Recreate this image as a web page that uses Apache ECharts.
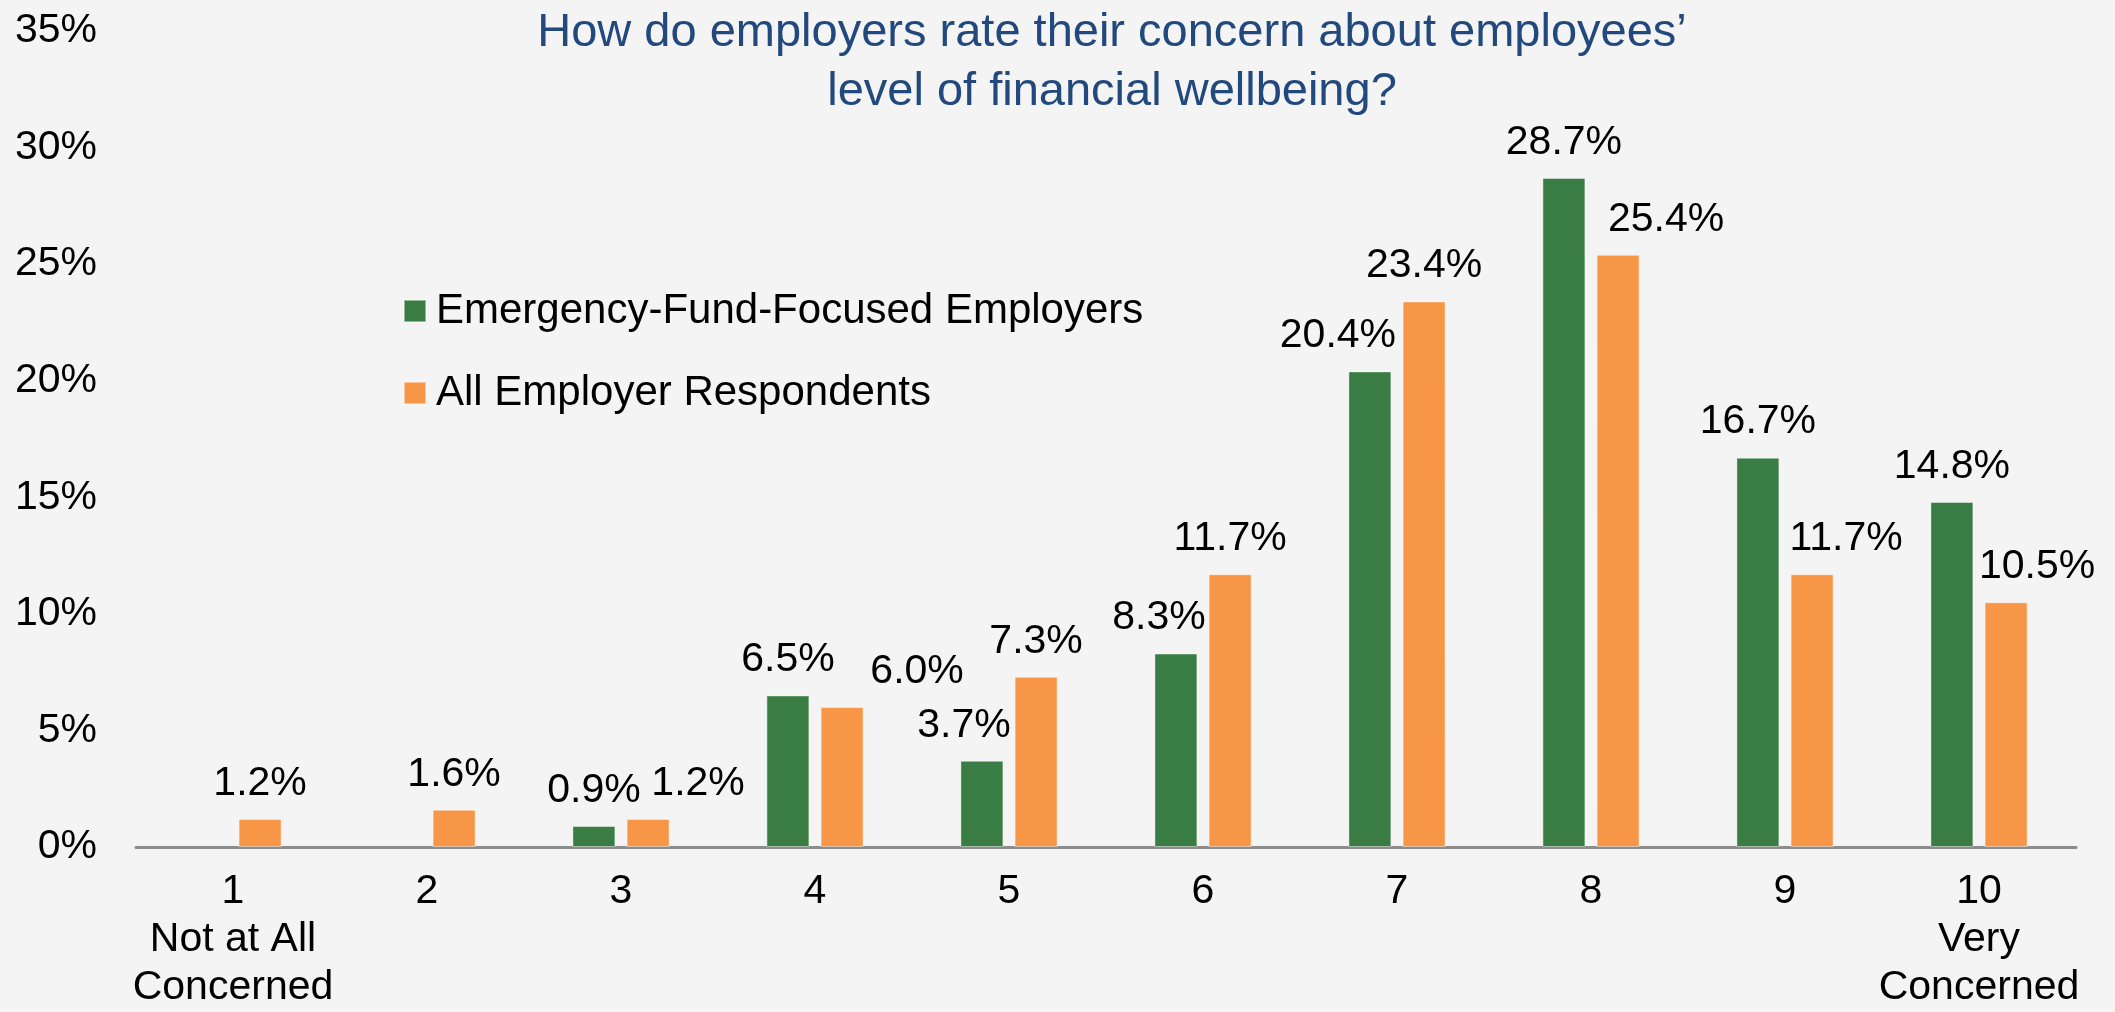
<!DOCTYPE html>
<html>
<head>
<meta charset="utf-8">
<script src="https://cdn.jsdelivr.net/npm/echarts@6/dist/echarts.min.js"></script>
<style>
  html, body { margin: 0; padding: 0; background: #f4f4f4; }
  #chart { width: 2115px; height: 1012px; }
</style>
</head>
<body>
<div id="chart"></div>
<script>
// ---- data ----
var categories = ['1\nNot at All\nConcerned', '2', '3', '4', '5', '6', '7', '8', '9', '10\nVery\nConcerned'];
var seriesNames = ['Emergency-Fund-Focused Employers', 'All Employer Respondents'];
var emergencyFundFocused = [null, null, 0.9, 6.5, 3.7, 8.3, 20.4, 28.7, 16.7, 14.8];
var allEmployerRespondents = [1.2, 1.6, 1.2, 6.0, 7.3, 11.7, 23.4, 25.4, 11.7, 10.5];
var titleText = 'How do employers rate their concern about employees\u2019\nlevel of financial wellbeing?';
var yMin = 0, yMax = 35, yStep = 5;

// ---- label nudges (layout only, horizontal px, as placed in the original) ----
var greenLabelNudge = [0, 0, 0, 0, -18, -17, -32, 0, 0, 0];
var orangeLabelNudge = [0, 0, 50, 75, 0, 0, 0, 48, 34, 31];

var FONT = '"Liberation Sans", Arial, Helvetica, sans-serif';
var GREEN = '#3a7d44';
var ORANGE = '#f79646';

function buildData(values, nudges) {
  return values.map(function (v, i) {
    if (v === null) return '-';
    return { value: v, label: { offset: [nudges[i], 0] } };
  });
}

var chart = echarts.init(document.getElementById('chart'), null, { renderer: 'canvas' });

var labelCfg = {
  show: true,
  position: 'top',
  distance: 15,
  fontFamily: FONT,
  fontSize: 41,
  lineHeight: 41,
  color: '#000000',
  formatter: function (p) { return p.value.toFixed(1) + '%'; }
};

var option = {
  backgroundColor: '#f4f4f4',
  animation: false,
  textStyle: { fontFamily: FONT },
  graphic: [{
    type: 'text',
    x: 1112,
    y: 4,
    silent: true,
    style: {
      text: titleText,
      fill: '#22497d',
      font: '47px ' + FONT,
      fontSize: 47,
      fontFamily: FONT,
      lineHeight: 59,
      align: 'center',
      textAlign: 'center',
      verticalAlign: 'top',
      textVerticalAlign: 'top'
    }
  }],
  legend: {
    orient: 'vertical',
    left: 398,
    top: 285,
    itemWidth: 22,
    itemHeight: 22,
    itemGap: 40,
    icon: 'rect',
    data: seriesNames,
    textStyle: {
      fontFamily: FONT,
      fontSize: 42,
      lineHeight: 42,
      color: '#000000',
      padding: [0, 0, 0, 5]
    }
  },
  grid: {
    left: 136,
    right: 39,
    top: 31,
    bottom: 160,
    containLabel: false
  },
  xAxis: {
    type: 'category',
    data: categories,
    axisLine: { show: true, lineStyle: { color: '#8c8c8c', width: 3 } },
    axisTick: { show: false },
    splitLine: { show: false },
    axisLabel: {
      fontFamily: FONT,
      fontSize: 41,
      lineHeight: 48,
      color: '#000000',
      margin: 21,
      interval: 0,
      align: 'center'
    }
  },
  yAxis: {
    type: 'value',
    min: yMin,
    max: yMax,
    interval: yStep,
    axisLine: { show: false },
    axisTick: { show: false },
    splitLine: { show: false },
    axisLabel: {
      fontFamily: FONT,
      fontSize: 41,
      color: '#000000',
      margin: 39,
      padding: [6, 0, 0, 0],
      formatter: '{value}%'
    }
  },
  series: [
    {
      name: seriesNames[0],
      type: 'bar',
      barWidth: 43,
      barGap: '26%',
      itemStyle: { color: GREEN, borderColor: 'rgba(255,255,255,0.45)', borderWidth: 1 },
      label: labelCfg,
      data: buildData(emergencyFundFocused, greenLabelNudge)
    },
    {
      name: seriesNames[1],
      type: 'bar',
      barWidth: 43,
      barGap: '26%',
      itemStyle: { color: ORANGE, borderColor: 'rgba(255,255,255,0.45)', borderWidth: 1 },
      label: labelCfg,
      data: buildData(allEmployerRespondents, orangeLabelNudge)
    }
  ]
};

chart.setOption(option);
</script>
</body>
</html>
